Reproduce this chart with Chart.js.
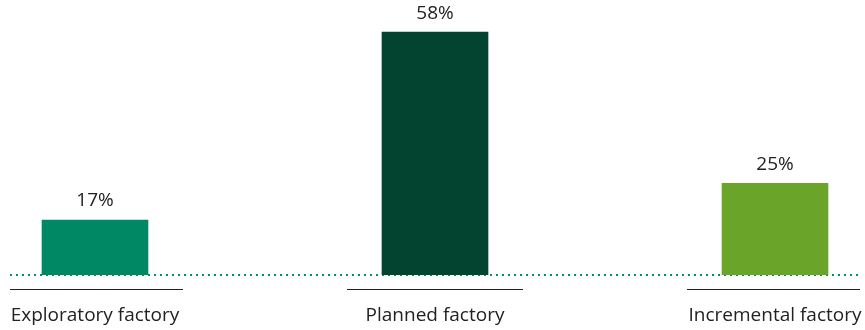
<!DOCTYPE html>
<html>
<head>
<meta charset="utf-8">
<script src="https://cdn.jsdelivr.net/npm/chart.js@4/dist/chart.umd.min.js"></script>
<style>
  html, body { margin: 0; padding: 0; background: #fff; }
  #wrap { width: 865px; height: 330px; }
</style>
</head>
<body>
<div id="wrap"><canvas id="factoryChart"></canvas></div>
<script>
// chart data
const categories = ['Exploratory factory', 'Planned factory', 'Incremental factory'];
const shares = [17, 58, 25];
const barColors = ['#008864', '#024430', '#6AA428'];

const FONT = '"Open Sans", "DejaVu Sans", sans-serif';
const FONT_SIZE = 19;

// dotted base line under the bars
const baseLine = {
  id: 'baseLine',
  beforeDatasetsDraw(chart) {
    const { ctx, chartArea } = chart;
    const y = chart.scales.y.getPixelForValue(chart.scales.y.min);
    ctx.save();
    ctx.strokeStyle = '#00906A';
    ctx.lineWidth = 2;
    ctx.setLineDash([2, 4]);
    ctx.beginPath();
    ctx.moveTo(chartArea.left, y);
    ctx.lineTo(chartArea.right, y);
    ctx.stroke();
    ctx.restore();
  }
};

// short rule above each category label + value labels over bars
const labelDeco = {
  id: 'labelDeco',
  afterDatasetsDraw(chart) {
    const { ctx, chartArea } = chart;
    const xs = chart.scales.x;
    ctx.save();
    ctx.strokeStyle = '#222';
    ctx.lineWidth = 1;
    categories.forEach((c, i) => {
      const cx = xs.getPixelForValue(i);
      let l = Math.max(cx - 88, chartArea.left);
      let r = Math.min(cx + 88, chartArea.right);
      ctx.beginPath();
      ctx.moveTo(l, 289.5);
      ctx.lineTo(r, 289.5);
      ctx.stroke();
    });
    const meta = chart.getDatasetMeta(0);
    ctx.fillStyle = '#222';
    ctx.font = FONT_SIZE + 'px ' + FONT;
    ctx.textAlign = 'center';
    ctx.textBaseline = 'middle';
    meta.data.forEach((bar, i) => {
      ctx.fillText(shares[i] + '%', bar.x, bar.y - 19);
    });
    ctx.restore();
  }
};

new Chart(document.getElementById('factoryChart'), {
  type: 'bar',
  data: {
    datasets: [{
      data: shares.map((v, i) => ({ x: i, y: v })),
      backgroundColor: barColors,
      borderWidth: 0,
      barThickness: 106
    }]
  },
  options: {
    responsive: true,
    maintainAspectRatio: false,
    animation: false,
    layout: { padding: { top: 23, left: 10, right: 5, bottom: 0 } },
    plugins: {
      legend: { display: false },
      tooltip: { enabled: false }
    },
    scales: {
      x: {
        type: 'linear',
        min: -0.25,
        max: 2.25,
        offset: false,
        grid: { display: false, drawTicks: false },
        border: { display: false },
        afterFit: (scale) => {
          scale.height = 55;
          scale.paddingLeft = 0;
          scale.paddingRight = 0;
        },
        ticks: {
          stepSize: 1,
          includeBounds: false,
          autoSkip: false,
          maxRotation: 0,
          padding: 29,
          color: '#222',
          font: { family: FONT, size: FONT_SIZE },
          callback: (v) => Number.isInteger(v) ? categories[v] : ''
        }
      },
      y: {
        display: false,
        min: 5,
        max: 60
      }
    }
  },
  plugins: [baseLine, labelDeco]
});
</script>
</body>
</html>
